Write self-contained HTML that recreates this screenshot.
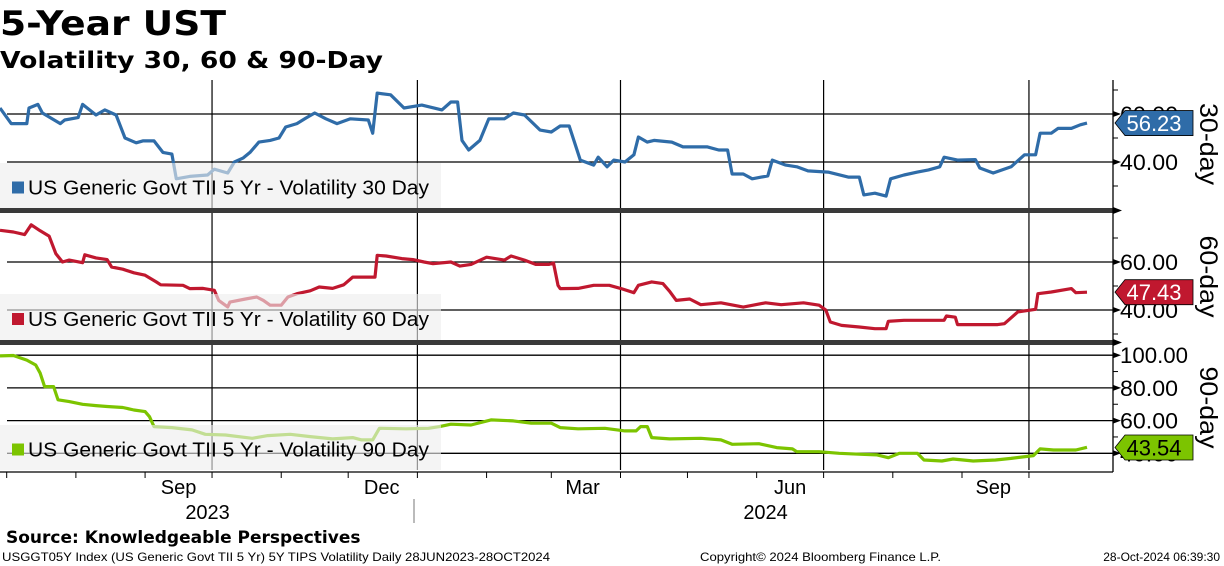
<!DOCTYPE html>
<html><head><meta charset="utf-8">
<style>
html,body{margin:0;padding:0;background:#fff;}
svg{display:block;font-family:"Liberation Sans","DejaVu Sans",sans-serif;}
.b{font-family:"DejaVu Sans","Liberation Sans",sans-serif;font-weight:bold;}
</style></head>
<body>
<svg id="chart" width="1224" height="566" viewBox="0 0 1224 566">
<text class="b" x="0" y="35" font-size="34" textLength="226" lengthAdjust="spacingAndGlyphs">5-Year UST</text>
<text class="b" x="0" y="68" font-size="23" textLength="383" lengthAdjust="spacingAndGlyphs">Volatility 30, 60 &amp; 90-Day</text>
<g id="plots"></g>
<text class="b" x="6" y="543" font-size="17">Source: Knowledgeable Perspectives</text>
<text x="2" y="561" font-size="12" textLength="548" lengthAdjust="spacingAndGlyphs">USGGT05Y Index (US Generic Govt TII 5 Yr) 5Y TIPS Volatility  Daily 28JUN2023-28OCT2024</text>
<text x="700" y="561" font-size="12" textLength="241" lengthAdjust="spacingAndGlyphs">Copyright© 2024 Bloomberg Finance L.P.</text>
<text x="1220" y="561" font-size="12" text-anchor="end">28-Oct-2024 06:39:30</text>
</svg>
<script>
// day offsets from 28 Jun 2023
const days30=[0,5,12,13,17,19,27,29,35,37,43,47,52,56,61,64,69,73,77,79,85,93,96,102,105,109,112,116,121,125,128,133,137,141,146,151,157,165,167,169,175,181,189,198,202,205,207,210,215,219,226,230,235,242,247,251,255,260,266,268,272,275,280,284,286,290,293,301,306,317,322,326,328,333,337,344,346,352,357,362,371,380,385,387,392,397,399,405,411,416,421,423,429,437,439,445,453,459,464,466,471,474,480,484,487];
const vol30=[62.5,56,56,62.5,64,60.4,56,57.5,58.5,64,59.6,61.7,59.6,50,48,48.8,48.8,44,43.3,33,34,34.6,37,35.4,40,41.7,44,48.3,49,50,54.6,56,58.3,60.4,58,56,58,57.5,52,68.7,68,62.5,63.7,61.7,65,65,49,45,49,58,58,60.4,59.6,53.3,52.5,55,55,40.8,38.7,42,38,40.8,40,43,50.4,48.3,49,48.3,46.3,46.3,45,45,35,35,33,34.2,40.8,38.7,38,36.3,35.8,33.7,33.7,26.3,27,25.8,33,34.6,35.8,36.7,38,42,40.8,41,37.5,35.4,38,43,43,52,52,54,54,55.5,56.2];
const days60=[0,6,11,14,18,22,25,28,31,37,38,43,48,50,55,60,65,70,72,82,85,91,96,98,102,103,110,115,118,121,126,129,133,139,143,149,154,158,168,169,173,180,185,190,194,202,206,211,218,226,229,235,240,246,248,250,251,259,266,273,278,284,286,292,297,300,303,309,314,323,333,343,350,360,367,370,372,377,385,392,397,398,405,423,424,428,429,447,450,456,464,465,471,480,482,487];
const vol60=[73.2,72.5,71.4,75.5,73,70.8,63.5,60,60.8,59.7,63,61.7,61,57.9,57,55.5,54.5,51.7,50.5,50.3,48.9,49,48.2,44,41.3,43.3,44.6,45.4,44,42,42,45.4,46.8,48,49.6,49,50.5,53.7,53.7,62.8,62.5,61.4,61,60,59.3,60,58.3,59,62,60.8,62.5,60.8,59,59,59.6,50.3,48.9,49,50.3,50.3,49,47.2,50.3,51.7,51,47.8,44,44.6,42.2,43,41.2,43,42.2,43,42,40,35,33.6,32.9,32.2,32.2,35.3,35.7,35.7,37.5,37,33.9,33.9,34.3,39.2,40.3,46.8,47.5,48.9,47.2,47.4];
const days90=[0,6,12,16,18,20,24,26,31,37,43,48,55,60,65,67,69,77,86,92,101,113,120,130,139,149,158,162,167,170,182,192,197,202,211,220,230,238,247,251,259,271,280,285,287,290,292,300,314,323,328,340,348,355,357,367,376,386,393,398,403,411,414,422,427,436,446,453,463,466,472,482,487];
const vol90=[99.6,99.8,97,94,89,80.8,80.8,72.7,71.6,70,69.2,68.6,68,66.5,65.5,62.4,56.3,55.7,54.3,51.6,51.2,49.2,50.8,51.6,50.2,48.8,49.6,48.2,48.2,55.3,55,55.3,56.3,57.8,57.3,60.4,59.8,58.4,58.4,55.7,55,55.3,53.7,53.7,56.3,56.3,49.6,48.8,49.2,48.2,45.5,45.9,43.5,42.7,41,41,40,39.4,39,37.3,40,40,35.9,35.3,36.5,35.3,35.9,36.9,38.6,42.7,42,42,43.7];
const lastValues=["56.23","47.43","43.54"];
const panelTitles=["30-day","60-day","90-day"];
const monthStartDays=[3,34,65,95,126,156,187,218,247,278,308,339,369,400,431,461];
const monthLabels=["Sep","Dec","Mar","Jun","Sep"];
const monthLabelDays=[80,171,261,354,445];
const gridDays=[95,187,278,369,461];
const yearLabels=["2023","2024"];
const yearLabelDays=[93,343];

const NS="http://www.w3.org/2000/svg";
const root=document.getElementById('plots');
const X=d=>d*2.232;
const RIGHT=1113;
function el(tag,attrs,parent){const e=document.createElementNS(NS,tag);for(const k in attrs)e.setAttribute(k,attrs[k]);(parent||root).appendChild(e);return e;}

const panels=[
 {top:80,bot:208,y0:162,v0:40,k:2.4,ticks:[40,60],minor:[30,50,70],days:days30,vals:vol30,col:"#2f6ca8",tc:"#fff",lg:[163,208],name:"30"},
 {top:213,bot:340,y0:310,v0:40,k:2.4,ticks:[40,60],minor:[30,50,70],days:days60,vals:vol60,col:"#c0182f",tc:"#fff",lg:[294,340],name:"60"},
 {top:345,bot:470,y0:453.3,v0:40,k:1.635,ticks:[40,60,80,100],minor:[50,70,90],days:days90,vals:vol90,col:"#7cc400",tc:"#000",lg:[425,470],name:"90"}
];
panels.forEach((p,i)=>{
 const Y=v=>p.y0-(v-p.v0)*p.k;
 const g=el('g',{});
 
 
 p.ticks.forEach(t=>{
  const l=el('line',{x1:7,x2:RIGHT,y1:Y(t),y2:Y(t),stroke:"#000","stroke-width":1.3},g);
  
  
  const tx=el('text',{x:1120,y:Y(t)+8,"font-size":22,textLength:(t>=100?68:58),lengthAdjust:"spacingAndGlyphs"},g);
  tx.textContent=t.toFixed(2);
  
  
  el('polygon',{points:`${RIGHT},${Y(t)-3} ${RIGHT+8},${Y(t)} ${RIGHT},${Y(t)+3}`,fill:"#000"},g);
 });
 p.minor.forEach(t=>{if(Y(t)>p.top&&Y(t)<p.bot)el('line',{x1:RIGHT,x2:RIGHT+5,y1:Y(t),y2:Y(t),stroke:"#000"},g);});
 gridDays.forEach(d=>{
  const l=el('line',{x1:X(d),x2:X(d),y1:p.top,y2:p.bot,stroke:"#000","stroke-width":1.2},g);
  
  
 });
 let pts=p.days.map((d,j)=>X(d).toFixed(1)+','+Y(p.vals[j]).toFixed(1)).join(' ');
 const line=el('polyline',{points:pts,fill:"none",stroke:p.col,"stroke-width":3.2,"stroke-linejoin":"round"},g);
 
 
 const lg=el('g',{},g);
 
 
 el('rect',{x:0,y:p.lg[0],width:441,height:p.lg[1]-p.lg[0],fill:"rgba(238,238,238,0.62)"},lg);
 const mid=(p.lg[0]+p.lg[1])/2+2;
 el('rect',{x:12,y:mid-6,width:12,height:12,fill:p.col},lg);
 const lt=el('text',{x:28,y:mid+7,"font-size":20,textLength:401,lengthAdjust:"spacingAndGlyphs"},lg);
 lt.textContent="US Generic Govt TII 5 Yr - Volatility "+p.name+" Day";
 if(i<2){el('rect',{x:0,y:p.bot,width:RIGHT,height:5,fill:"#3a3a3a"},g);
  el('polygon',{points:`${RIGHT},${p.bot-1} ${RIGHT+9},${p.bot+2.5} ${RIGHT},${p.bot+6}`,fill:"#000"},g);}
 const vy=Y(parseFloat(lastValues[i]));
 const tag=el('g',{},g);
 
 
 el('polygon',{points:`${RIGHT+2},${vy} ${RIGHT+12},${vy-12.5} ${1193},${vy-12.5} ${1193},${vy+12.5} ${RIGHT+12},${vy+12.5}`,fill:p.col,stroke:"#000","stroke-width":0.8},tag);
 const vt=el('text',{x:1154,y:vy+8,"font-size":22,"text-anchor":"middle",fill:p.tc},tag);
 vt.textContent=lastValues[i];
 const cy=(p.top+p.bot)/2;
 const pt=el('text',{x:1200,y:cy,"font-size":25,"text-anchor":"middle",textLength:82,lengthAdjust:"spacingAndGlyphs",transform:`rotate(90 1200 ${cy})`},g);
 pt.textContent=panelTitles[i];
 
 
});
const ax=el('line',{x1:RIGHT,x2:RIGHT,y1:80,y2:472,stroke:"#000","stroke-width":1.3});


const xa=el('line',{x1:0,x2:RIGHT,y1:472,y2:472,stroke:"#000","stroke-width":1.3});


monthStartDays.forEach(d=>el('line',{x1:X(d),x2:X(d),y1:472,y2:478,stroke:"#000"}));
monthLabels.forEach((m,j)=>{
 const t=el('text',{x:X(monthLabelDays[j]),y:494,"font-size":20,"text-anchor":"middle"});
 t.textContent=m;
 
 
});
yearLabels.forEach((yv,j)=>{
 const t=el('text',{x:X(yearLabelDays[j]),y:519,"font-size":20,"text-anchor":"middle"});
 t.textContent=yv;
 
 
});
el('line',{x1:414,x2:414,y1:499,y2:523,stroke:"#777","stroke-width":1});
</script>
</body></html>
